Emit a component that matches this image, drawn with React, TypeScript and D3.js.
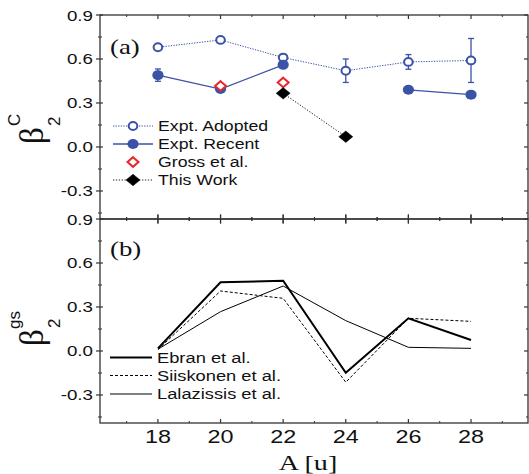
import React from 'react';
import * as d3 from 'd3';

const masses = [18, 20, 22, 24, 26, 28];
const adopted = [0.68, 0.73, 0.61, 0.52, 0.58, 0.59];
const adoptedErr = [0.02, 0.015, 0.02, 0.08, 0.05, 0.15];
const recent: (number | null)[] = [0.49, 0.395, 0.56, null, 0.39, 0.357];
const recentErr: (number | null)[] = [0.042, 0.01, 0.01, null, 0.01, 0.012];
const grossMass = [20, 22];
const gross = [0.416, 0.44];
const thisWorkMass = [22, 24];
const thisWork = [0.366, 0.07];
const ebran = [0.018, 0.468, 0.479, -0.148, 0.223, 0.075];
const siiskonen = [0.01, 0.409, 0.359, -0.213, 0.223, 0.202];
const lalazissis = [0.012, 0.268, 0.443, 0.207, 0.025, 0.018];
const yTicks = [0.9, 0.6, 0.3, 0.0, -0.3];
const yMinor = [0.75, 0.45, 0.15, -0.15, -0.45];
const xTicks = [18, 20, 22, 24, 26, 28];
const xMinor = [17, 19, 21, 23, 25, 27, 29];

const W = 529, H = 474;
const L = 100, R = 528;
const T1 = 15, B1 = 219, T2 = 219, B2 = 423;
const BLUE = '#3a53a6';
const RED = '#e8262b';
const AX = '#333';
const SANS = '"Liberation Sans", Arial, Helvetica, sans-serif';
const SERIF = '"Liberation Serif", "Times New Roman", serif';

const x = d3.scaleLinear().domain([16.15, 29.82]).range([L, R]);
const yTop = d3.scaleLinear().domain([-0.491, 0.9]).range([B1, T1]);
const yBot = d3.scaleLinear().domain([-0.491, 0.9]).range([B2, T2]);

function SText(props: { x: number; y: number; size: number; anchor?: string; family?: string; sx?: number; children: any; weight?: string }) {
  const { x: px, y: py, size, anchor = 'start', family = SANS, sx = 1.22, children, weight = 'normal' } = props;
  return (
    <text transform={`translate(${px},${py}) scale(${sx},1)`} fontSize={size} fontFamily={family} textAnchor={anchor} fill="#111" fontWeight={weight}>
      {children}
    </text>
  );
}

function Diamond({ cx, cy, w, h, fill, stroke, sw }: any) {
  return <path d={`M${cx},${cy - h}L${cx + w},${cy}L${cx},${cy + h}L${cx - w},${cy}Z`} fill={fill} stroke={stroke} strokeWidth={sw} />;
}

function Frame({ top, bottom, topTicks, bottomTicks, y }: any) {
  const els: any[] = [];
  yTicks.forEach((v, i) => {
    const yy = y(v);
    els.push(<line key={'lt' + i} x1={L - 4} x2={L + 3} y1={yy} y2={yy} stroke={AX} strokeWidth={1.2} />);
    els.push(<line key={'rt' + i} x1={R - 4} x2={R} y1={yy} y2={yy} stroke={AX} strokeWidth={1.2} />);
  });
  yMinor.forEach((v, i) => {
    const yy = y(v);
    els.push(<line key={'lm' + i} x1={L - 2} x2={L + 2} y1={yy} y2={yy} stroke={AX} strokeWidth={1} />);
    els.push(<line key={'rm' + i} x1={R - 2} x2={R} y1={yy} y2={yy} stroke={AX} strokeWidth={1} />);
  });
  const tickX = (yy: number, mode: string, key: string) => {
    xTicks.forEach((v, i) => {
      const xx = x(v);
      const [a, b] = mode === 'down' ? [0, 4] : mode === 'up' ? [-4, 0] : [-4.5, 4.5];
      els.push(<line key={key + 'M' + i} x1={xx} x2={xx} y1={yy + a} y2={yy + b} stroke={AX} strokeWidth={1.2} />);
    });
    xMinor.forEach((v, i) => {
      const xx = x(v);
      const [a, b] = mode === 'down' ? [0, 2] : mode === 'up' ? [-2, 0] : [-2, 2];
      els.push(<line key={key + 'm' + i} x1={xx} x2={xx} y1={yy + a} y2={yy + b} stroke={AX} strokeWidth={1} />);
    });
  };
  tickX(top, topTicks, 't' + top);
  tickX(bottom, bottomTicks, 'b' + bottom);
  return (
    <g>
      <rect x={L} y={top} width={R - L} height={bottom - top} fill="none" stroke={AX} strokeWidth={1.3} />
      {els}
      {yTicks.map((v, i) => (
        <SText key={'yl' + i} x={93} y={y(v) + 5.5} size={15} anchor="end" sx={1.25}>
          {v.toFixed(1)}
        </SText>
      ))}
    </g>
  );
}

export default function App() {
  const adoptedLine = d3.line<number>().x((_, i) => x(masses[i])).y((d) => yTop(d));
  const recentLine = d3
    .line<number | null>()
    .defined((d) => d !== null)
    .x((_, i) => x(masses[i]))
    .y((d) => yTop(d as number));
  const thisLine = d3.line<number>().x((_, i) => x(thisWorkMass[i])).y((d) => yTop(d));
  const botLine = d3.line<number>().x((_, i) => x(masses[i])).y((d) => yBot(d));

  const legendTop = [126, 144, 162, 180];
  const legendBot = [357.5, 375.5, 394];

  return (
    <svg width={W} height={H} style={{ position: 'absolute', left: 0, top: 0, background: '#fff' }}>
      <rect x={0} y={0} width={W} height={H} fill="#fff" />
      {/* Panel (a) */}
      <Frame top={T1} bottom={B1} topTicks="down" bottomTicks="both" y={yTop} />
      <path d={adoptedLine(adopted) || ''} fill="none" stroke={BLUE} strokeWidth={1} strokeDasharray="1.3,1.3" />
      <path d={recentLine(recent) || ''} fill="none" stroke={BLUE} strokeWidth={1.3} />
      <path d={thisLine(thisWork) || ''} fill="none" stroke="#222" strokeWidth={1} strokeDasharray="1.3,1.6" />
      {masses.map((m, i) => {
        const xx = x(m);
        const e = adoptedErr[i];
        return (
          <g key={'ae' + i} stroke={BLUE} strokeWidth={1.3}>
            <line x1={xx} x2={xx} y1={yTop(adopted[i] + e)} y2={yTop(adopted[i] - e)} />
            <line x1={xx - 3} x2={xx + 3} y1={yTop(adopted[i] + e)} y2={yTop(adopted[i] + e)} />
            <line x1={xx - 3} x2={xx + 3} y1={yTop(adopted[i] - e)} y2={yTop(adopted[i] - e)} />
          </g>
        );
      })}
      {masses.map((m, i) => {
        const v = recent[i];
        const e = recentErr[i];
        if (v === null || e === null) return null;
        const xx = x(m);
        return (
          <g key={'re' + i} stroke={BLUE} strokeWidth={1.3}>
            <line x1={xx} x2={xx} y1={yTop(v + e)} y2={yTop(v - e)} />
            <line x1={xx - 3} x2={xx + 3} y1={yTop(v + e)} y2={yTop(v + e)} />
            <line x1={xx - 3} x2={xx + 3} y1={yTop(v - e)} y2={yTop(v - e)} />
          </g>
        );
      })}
      {masses.map((m, i) => (
        <ellipse key={'ac' + i} cx={x(m)} cy={yTop(adopted[i])} rx={4.3} ry={3.9} fill="#fff" stroke={BLUE} strokeWidth={2} />
      ))}
      {masses.map((m, i) =>
        recent[i] === null ? null : (
          <ellipse key={'rc' + i} cx={x(m)} cy={yTop(recent[i] as number)} rx={5.6} ry={5} fill={BLUE} />
        )
      )}
      {grossMass.map((m, i) => (
        <Diamond key={'g' + i} cx={x(m)} cy={yTop(gross[i])} w={5.5} h={4.8} fill="#fff" stroke={RED} sw={2} />
      ))}
      {thisWorkMass.map((m, i) => (
        <Diamond key={'t' + i} cx={x(m)} cy={yTop(thisWork[i])} w={7} h={5.8} fill="#000" stroke="#000" sw={0.5} />
      ))}
      <SText x={110} y={54} size={22} family={SERIF} sx={1.22}>(a)</SText>
      {/* legend (a) */}
      <line x1={113} x2={153} y1={legendTop[0]} y2={legendTop[0]} stroke={BLUE} strokeWidth={1} strokeDasharray="1.3,1.3" />
      <ellipse cx={133} cy={legendTop[0]} rx={4.3} ry={3.9} fill="#fff" stroke={BLUE} strokeWidth={2} />
      <line x1={113} x2={153} y1={legendTop[1]} y2={legendTop[1]} stroke={BLUE} strokeWidth={1.3} />
      <ellipse cx={133} cy={legendTop[1]} rx={5.6} ry={5} fill={BLUE} />
      <Diamond cx={133} cy={legendTop[2]} w={5.5} h={4.8} fill="#fff" stroke={RED} sw={2} />
      <line x1={113} x2={153} y1={legendTop[3]} y2={legendTop[3]} stroke="#222" strokeWidth={1} strokeDasharray="1.3,1.6" />
      <Diamond cx={133} cy={legendTop[3]} w={7} h={5.8} fill="#000" stroke="#000" sw={0.5} />
      {['Expt. Adopted', 'Expt. Recent', 'Gross et al.', 'This Work'].map((s, i) => (
        <SText key={'lt' + i} x={158} y={legendTop[i] + 5.3} size={15} sx={1.18}>{s}</SText>
      ))}
      {/* y label (a) */}
      <g transform="translate(43,144) rotate(-90)">
        <text x={0} y={0} fontSize={33} fontFamily={SERIF} fill="#111">β</text>
        <text x={18} y={-23} fontSize={17} fontFamily={SANS} fill="#111">C</text>
        <text x={18} y={17} fontSize={17} fontFamily={SANS} fill="#111">2</text>
      </g>

      {/* Panel (b) */}
      <Frame top={T2} bottom={B2} topTicks="both" bottomTicks="up" y={yBot} />
      <path d={botLine(ebran) || ''} fill="none" stroke="#000" strokeWidth={2} />
      <path d={botLine(siiskonen) || ''} fill="none" stroke="#000" strokeWidth={1} strokeDasharray="3,2" />
      <path d={botLine(lalazissis) || ''} fill="none" stroke="#000" strokeWidth={1} />
      <SText x={110} y={256} size={22} family={SERIF} sx={1.22}>(b)</SText>
      <line x1={110} x2={152} y1={legendBot[0]} y2={legendBot[0]} stroke="#000" strokeWidth={2} />
      <line x1={110} x2={152} y1={legendBot[1]} y2={legendBot[1]} stroke="#000" strokeWidth={1} strokeDasharray="3,2" />
      <line x1={110} x2={152} y1={legendBot[2]} y2={legendBot[2]} stroke="#000" strokeWidth={1} />
      {['Ebran et al.', 'Siiskonen et al.', 'Lalazissis et al.'].map((s, i) => (
        <SText key={'lb' + i} x={157} y={legendBot[i] + 5.3} size={15} sx={1.22}>{s}</SText>
      ))}
      <g transform="translate(43,346) rotate(-90)">
        <text x={0} y={0} fontSize={33} fontFamily={SERIF} fill="#111">β</text>
        <text x={17} y={-23} fontSize={17} fontFamily={SANS} fill="#111">gs</text>
        <text x={18} y={17} fontSize={17} fontFamily={SANS} fill="#111">2</text>
      </g>

      {/* x tick labels */}
      {xTicks.map((v, i) => (
        <SText key={'xl' + i} x={x(v)} y={443} size={18} anchor="middle" sx={1.3}>{String(v)}</SText>
      ))}
      <SText x={308} y={470} size={22} anchor="middle" family={SERIF} sx={1.28}>A [u]</SText>
    </svg>
  );
}
